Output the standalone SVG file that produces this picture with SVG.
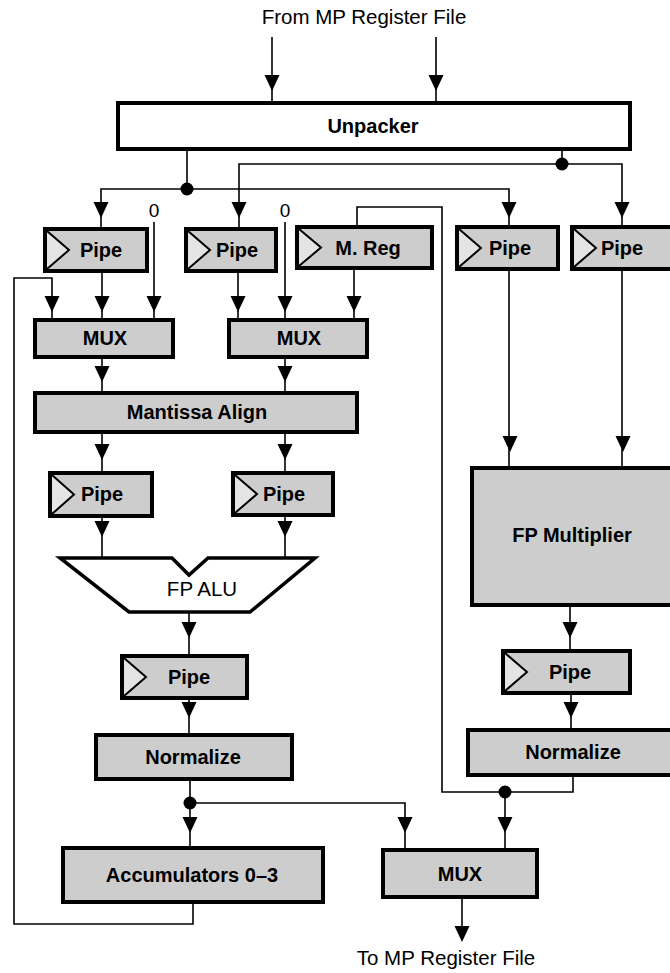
<svg xmlns="http://www.w3.org/2000/svg" xmlns:xlink="http://www.w3.org/1999/xlink" width="670" height="973" viewBox="0 0 670 973">
<style>
.box{fill:#cdcdcd;stroke:#000;stroke-width:4}
.wbox{fill:#fff;stroke:#000;stroke-width:4}
.ln{fill:none;stroke:#000;stroke-width:1.6}
.chev{fill:#e4e4e4;stroke:#000;stroke-width:2}
.lbl{font-family:"Liberation Sans",Arial,Helvetica,sans-serif;font-weight:bold;font-size:20px;text-anchor:middle;fill:#000}
.txt{font-family:"Liberation Sans",Arial,Helvetica,sans-serif;font-size:20.5px;text-anchor:middle;fill:#000}
.zero{font-family:"Liberation Sans",Arial,Helvetica,sans-serif;font-size:19px;text-anchor:middle;fill:#000}
.dot{fill:#000}
</style>
<defs>
<path id="ah" d="M-7.5,-16 L7.5,-16 L0,0 Z" fill="#000"/>
</defs>
<rect width="670" height="973" fill="#fff"/>

<text class="txt" x="364" y="24">From MP Register File</text>
<text class="txt" x="446" y="965">To MP Register File</text>
<text class="zero" x="154" y="217">0</text>
<text class="zero" x="285" y="217">0</text>

<g id="connectors">
<path class="ln" d="M272,37 V103 M436,37 V103"/>
<path class="ln" d="M187,149 V189 M101,228 V189 H509 V227"/>
<path class="ln" d="M562,149 V164 M239,229 V164 H622 V227"/>
<path class="ln" d="M154,222 V320 M285,222 V320"/>
<path class="ln" d="M102,271 V320 M238,271 V320 M354,268 V320"/>
<path class="ln" d="M52,320 V278 H14 V924 H193 V902"/>
<path class="ln" d="M357,227 V207 H442 V792 H573 V775"/>
<path class="ln" d="M505,792 V850"/>
<path class="ln" d="M102,357 V393 M285,357 V393"/>
<path class="ln" d="M102,432 V473 M285,432 V473"/>
<path class="ln" d="M102,516 V558 M285,515 V558"/>
<path class="ln" d="M189,612 V656 M189,698 V735"/>
<path class="ln" d="M190,779 V848 M190,803 H405 V850"/>
<path class="ln" d="M509,269 V468 M622,269 V468"/>
<path class="ln" d="M570,605 V651 M571,693 V730"/>
<path class="ln" d="M462,897 V940"/>
<use xlink:href="#ah" x="272" y="91"/>
<use xlink:href="#ah" x="436" y="91"/>
<use xlink:href="#ah" x="101" y="218"/>
<use xlink:href="#ah" x="239" y="218"/>
<use xlink:href="#ah" x="509" y="218"/>
<use xlink:href="#ah" x="622" y="218"/>
<use xlink:href="#ah" x="52" y="312"/>
<use xlink:href="#ah" x="102" y="312"/>
<use xlink:href="#ah" x="154" y="312"/>
<use xlink:href="#ah" x="238" y="312"/>
<use xlink:href="#ah" x="285" y="312"/>
<use xlink:href="#ah" x="354" y="312"/>
<use xlink:href="#ah" x="102" y="382"/>
<use xlink:href="#ah" x="285" y="382"/>
<use xlink:href="#ah" x="102" y="460"/>
<use xlink:href="#ah" x="285" y="460"/>
<use xlink:href="#ah" x="102" y="537"/>
<use xlink:href="#ah" x="285" y="537"/>
<use xlink:href="#ah" x="189" y="638"/>
<use xlink:href="#ah" x="189" y="718"/>
<use xlink:href="#ah" x="190" y="833"/>
<use xlink:href="#ah" x="405" y="833"/>
<use xlink:href="#ah" x="505" y="833"/>
<use xlink:href="#ah" x="510" y="452"/>
<use xlink:href="#ah" x="623" y="452"/>
<use xlink:href="#ah" x="570" y="638"/>
<use xlink:href="#ah" x="571" y="718"/>
<use xlink:href="#ah" x="462" y="942"/>
<circle class="dot" cx="187" cy="189" r="6.5"/>
<circle class="dot" cx="562" cy="164" r="6.5"/>
<circle class="dot" cx="505" cy="792" r="6.5"/>
<circle class="dot" cx="190" cy="803" r="6.5"/>
</g>

<g id="unpacker">
<rect class="wbox" x="118" y="103" width="512" height="46"/>
<text class="lbl" x="373" y="133">Unpacker</text>
</g>

<g id="pipe1">
<rect class="box" x="45" y="229" width="102" height="42"/>
<path class="chev" d="M47,231 L69,250 L47,269"/>
<text class="lbl" x="101" y="257">Pipe</text>
</g>
<g id="pipe2">
<rect class="box" x="186" y="229" width="90" height="42"/>
<path class="chev" d="M188,231 L210,250 L188,269"/>
<text class="lbl" x="237" y="257">Pipe</text>
</g>
<g id="mreg">
<rect class="box" x="297" y="227" width="135" height="41"/>
<path class="chev" d="M299,229 L321,247.5 L299,266"/>
<text class="lbl" x="368" y="255">M. Reg</text>
</g>
<g id="pipe3">
<rect class="box" x="457" y="227" width="101" height="42"/>
<path class="chev" d="M459,229 L481,248 L459,267"/>
<text class="lbl" x="510" y="255">Pipe</text>
</g>
<g id="pipe4">
<rect class="box" x="572" y="227" width="106" height="42"/>
<path class="chev" d="M574,229 L596,248 L574,267"/>
<text class="lbl" x="622" y="255">Pipe</text>
</g>

<g id="mux1">
<rect class="box" x="35" y="320" width="138" height="37"/>
<text class="lbl" x="105" y="345">MUX</text>
</g>
<g id="mux2">
<rect class="box" x="229" y="320" width="138" height="37"/>
<text class="lbl" x="299" y="345">MUX</text>
</g>

<g id="mantissa">
<rect class="box" x="35" y="393" width="322" height="39"/>
<text class="lbl" x="197" y="419">Mantissa Align</text>
</g>

<g id="pipe5">
<rect class="box" x="50" y="473" width="102" height="43"/>
<path class="chev" d="M52,475 L74,494.5 L52,514"/>
<text class="lbl" x="102" y="501">Pipe</text>
</g>
<g id="pipe6">
<rect class="box" x="233" y="473" width="100" height="42"/>
<path class="chev" d="M235,475 L257,494 L235,513"/>
<text class="lbl" x="284" y="501">Pipe</text>
</g>

<g id="fpalu">
<polygon points="60,558 172,558 189,575 208,558 315,558 250,612 129,612" fill="#fff" stroke="#000" stroke-width="3.5" stroke-linejoin="miter"/>
<text class="txt" x="202" y="596">FP ALU</text>
</g>

<g id="pipe7">
<rect class="box" x="122" y="656" width="125" height="42"/>
<path class="chev" d="M124,658 L146,677 L124,696"/>
<text class="lbl" x="189" y="684">Pipe</text>
</g>

<g id="normalize1">
<rect class="box" x="96" y="735" width="196" height="44"/>
<text class="lbl" x="193" y="764">Normalize</text>
</g>

<g id="accumulators">
<rect class="box" x="63" y="848" width="260" height="54"/>
<text class="lbl" x="192" y="882">Accumulators 0–3</text>
</g>

<g id="fpmult">
<rect class="box" x="472" y="468" width="206" height="137"/>
<text class="lbl" x="572" y="542">FP Multiplier</text>
</g>

<g id="pipe8">
<rect class="box" x="503" y="651" width="127" height="42"/>
<path class="chev" d="M505,653 L527,672 L505,691"/>
<text class="lbl" x="570" y="679">Pipe</text>
</g>

<g id="normalize2">
<rect class="box" x="468" y="730" width="210" height="45"/>
<text class="lbl" x="573" y="759">Normalize</text>
</g>

<g id="mux3">
<rect class="box" x="383" y="850" width="154" height="47"/>
<text class="lbl" x="460" y="881">MUX</text>
</g>
</svg>
